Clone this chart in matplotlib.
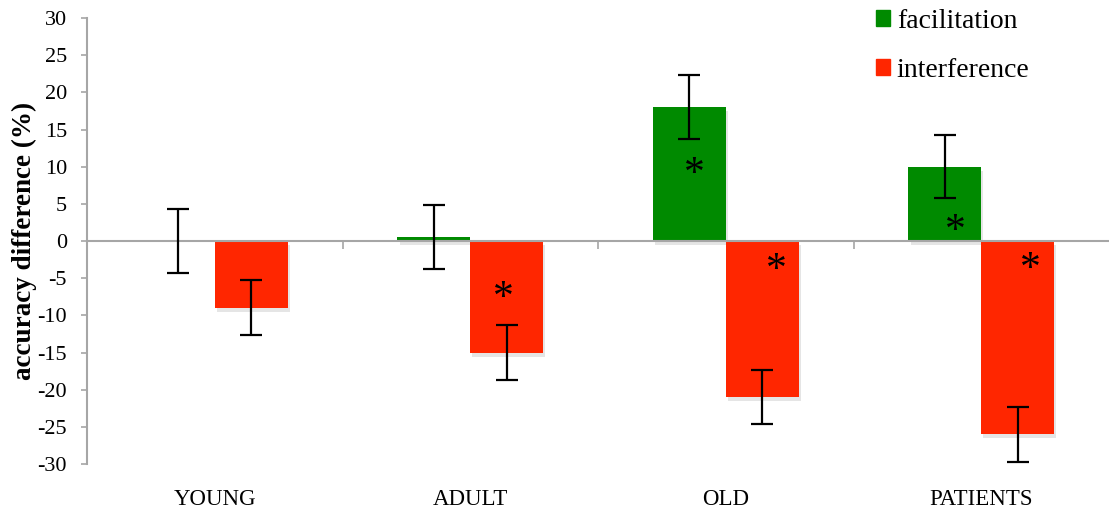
import matplotlib
matplotlib.use("Agg")
import matplotlib.pyplot as plt
import matplotlib.patheffects as pe
import numpy as np
from matplotlib.patches import Patch

# data
groups = ["YOUNG", "ADULT", "OLD", "PATIENTS"]
facilitation = [0.0, 0.5, 18.0, 10.0]
facilitation_err = [4.25, 4.3, 4.3, 4.25]
interference = [-9.0, -15.0, -21.0, -26.0]
interference_err = [3.7, 3.7, 3.65, 3.7]
# significance stars: group index, series, star height
star_group = [1, 2, 2, 3, 3]
star_series = ["interference", "facilitation", "interference", "facilitation", "interference"]
star_y = [-6.9, 9.7, -3.2, 2.0, -3.1]
# small horizontal nudge of each star off the bar centre (in category units)
star_dx = [-0.014, 0.018, 0.057, 0.043, 0.05]

GREEN = "#008A00"
RED = "#FF2600"
GRAY = "#A6A6A6"

plt.rcParams["font.family"] = ["Liberation Serif", "DejaVu Serif"]
plt.rcParams["axes.unicode_minus"] = False

fig = plt.figure(figsize=(11.09, 5.15), dpi=100)
ax = fig.add_axes([0.0785, 0.099, 0.9215, 0.866])

x = np.arange(len(groups))
w = 0.285
shadow = [pe.SimplePatchShadow(offset=(1.5, -3), alpha=0.1, shadow_rgbFace="black"), pe.Normal()]
b1 = ax.bar(x - w / 2, facilitation, w, color=GREEN, zorder=2)
b2 = ax.bar(x + w / 2, interference, w, color=RED, zorder=2)
for p in list(b1) + list(b2):
    p.set_path_effects(shadow)

ekw = dict(fmt="none", ecolor="black", elinewidth=1.6, capsize=8, capthick=1.6, zorder=4)
ax.errorbar(x - w / 2, facilitation, yerr=facilitation_err, **ekw)
ax.errorbar(x + w / 2, interference, yerr=interference_err, **ekw)

for gi, series, yv, dx in zip(star_group, star_series, star_y, star_dx):
    xc = x[gi] - w / 2 if series == "facilitation" else x[gi] + w / 2
    ax.text(xc + dx, yv - 0.8, "*", ha="center", va="center", fontsize=30, zorder=5)

ax.set_xlim(-0.5, 3.5)
ax.set_ylim(-30, 30)
ax.set_yticks(np.arange(-30, 31, 5))
ax.tick_params(axis="y", labelsize=16, color=GRAY, length=4.5, width=1.2, pad=10)
ax.set_ylabel("accuracy difference (%)", fontsize=19.5, fontweight="bold", labelpad=0)

for s in ["top", "right"]:
    ax.spines[s].set_visible(False)
ax.spines["left"].set_color(GRAY)
ax.spines["left"].set_linewidth(1.5)
ax.spines["bottom"].set_position(("data", 0))
ax.spines["bottom"].set_color(GRAY)
ax.spines["bottom"].set_linewidth(1.5)
ax.spines["bottom"].set_zorder(3)
ax.set_xticks([0.5, 1.5, 2.5])
ax.set_xticklabels([])
ax.tick_params(axis="x", color=GRAY, length=6, width=1.2)

sec = ax.secondary_xaxis(0.0)
sec.set_xticks(x)
sec.set_xticklabels(groups, fontsize=16.5)
sec.tick_params(length=0, pad=18)
sec.spines["bottom"].set_visible(False)

handles = [Patch(color=GREEN, label="facilitation"), Patch(color=RED, label="interference")]
ax.legend(handles=handles, loc="upper left", bbox_to_anchor=(0.772, 1.02), frameon=False,
          borderpad=0, borderaxespad=0, fontsize=20, handlelength=0.5, handleheight=0.5,
          handletextpad=0.25, labelspacing=0.87)

fig.savefig("out.png", dpi=100)
